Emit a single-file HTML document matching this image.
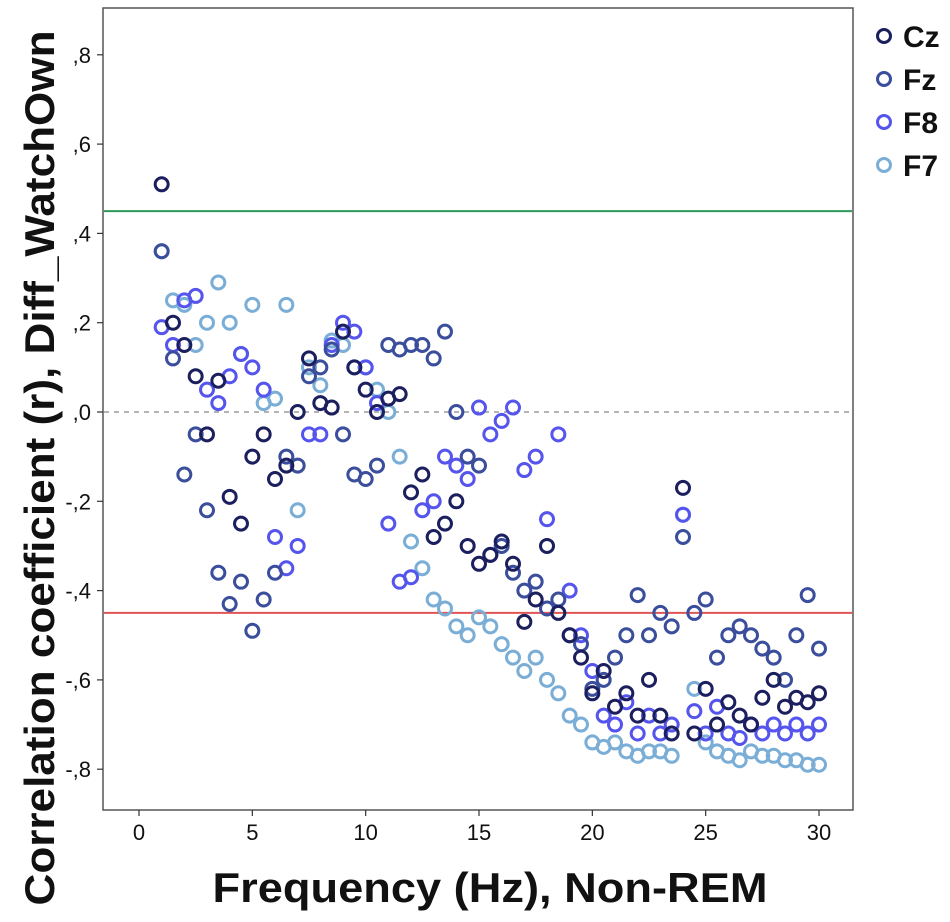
<!DOCTYPE html>
<html><head><meta charset="utf-8"><style>
html,body{margin:0;padding:0;background:#fff;}
svg{display:block;font-family:"Liberation Sans",Arial,sans-serif;}
</style></head><body>
<svg id="chart" width="950" height="922" viewBox="0 0 950 922">
<rect x="103" y="8" width="750" height="802" fill="#fff" stroke="#555" stroke-width="1.5"/>
<g id="axes"></g>
<g id="marks"></g>
<text x="490" y="902" text-anchor="middle" font-size="42" font-weight="bold" fill="#111" textLength="555" lengthAdjust="spacingAndGlyphs">Frequency (Hz), Non-REM</text>
<text transform="translate(54,468) rotate(-90)" text-anchor="middle" font-size="42" font-weight="bold" fill="#111" textLength="875" lengthAdjust="spacingAndGlyphs">Correlation coefficient (r), Diff_WatchOwn</text>
<g id="legend"></g>
</svg>
<script>
const freqs=[1,1.5,2,2.5,3,3.5,4,4.5,5,5.5,6,6.5,7,7.5,8,8.5,9,9.5,10,10.5,11,11.5,12,12.5,13,13.5,14,14.5,15,15.5,16,16.5,17,17.5,18,18.5,19,19.5,20,20.5,21,21.5,22,22.5,23,23.5,24,24.5,25,25.5,26,26.5,27,27.5,28,28.5,29,29.5,30];
const cz=[.51,.2,.15,.08,-.05,.07,-.19,-.25,-.1,-.05,-.15,-.12,0,.12,.02,.01,.18,.1,.05,0,.03,.04,-.18,-.14,-.28,-.25,-.2,-.3,-.34,-.32,-.29,-.34,-.47,-.42,-.3,-.45,-.5,-.55,-.63,-.58,-.66,-.63,-.68,-.6,-.68,-.72,-.17,-.72,-.62,-.7,-.65,-.68,-.7,-.64,-.6,-.66,-.64,-.65,-.63];
const fz=[.36,.12,-.14,-.05,-.22,-.36,-.43,-.38,-.49,-.42,-.36,-.1,-.12,.08,.1,.14,-.05,-.14,-.15,-.12,.15,.14,.15,.15,.12,.18,0,-.1,-.12,-.32,-.3,-.36,-.4,-.38,-.44,-.42,-.5,-.52,-.62,-.6,-.55,-.5,-.41,-.5,-.45,-.48,-.28,-.45,-.42,-.55,-.5,-.48,-.5,-.53,-.55,-.6,-.5,-.41,-.53];
const f8=[.19,.15,.25,.26,.05,.02,.08,.13,.1,.05,-.28,-.35,-.3,-.05,-.05,.15,.2,.18,.1,.02,-.25,-.38,-.37,-.22,-.2,-.1,-.12,-.15,.01,-.05,-.02,.01,-.13,-.1,-.24,-.05,-.4,-.5,-.58,-.68,-.7,-.65,-.72,-.68,-.72,-.7,-.23,-.67,-.72,-.66,-.72,-.73,-.7,-.72,-.7,-.72,-.7,-.72,-.7];
const f7=[.36,.25,.24,.15,.2,.29,.2,.13,.24,.02,.03,.24,-.22,.1,.06,.16,.15,.1,.1,.05,0,-.1,-.29,-.35,-.42,-.44,-.48,-.5,-.46,-.48,-.52,-.55,-.58,-.55,-.6,-.63,-.68,-.7,-.74,-.75,-.74,-.76,-.77,-.76,-.76,-.77,-.23,-.62,-.74,-.76,-.77,-.78,-.76,-.77,-.77,-.78,-.78,-.79,-.79];
const seriesNames=["Cz","Fz","F8","F7"];
const seriesColors=["#1c1f5e","#3a4e9c","#5555ee","#7aaed6"];
const xTicks=[0,5,10,15,20,25,30];
const yTicks=[0.8,0.6,0.4,0.2,0,-0.2,-0.4,-0.6,-0.8];
const yTickLabels=[",8",",6",",4",",2",",0","-,2","-,4","-,6","-,8"];
const refUpper=0.45, refLower=-0.45;

const NS="http://www.w3.org/2000/svg";
const X=f=>139+f*22.667;
const Y=r=>412-r*446.5;
function mk(tag,attrs,parent){const e=document.createElementNS(NS,tag);for(const k in attrs)e.setAttribute(k,attrs[k]);parent.appendChild(e);return e;}
const axes=document.getElementById('axes'),marks=document.getElementById('marks'),legend=document.getElementById('legend');

xTicks.forEach(t=>{
  const l=mk('line',{x1:X(t),x2:X(t),y1:810,y2:816,stroke:'#333','stroke-width':1.2},axes);
  
  
  const tx=mk('text',{x:X(t),y:840,'text-anchor':'middle','font-size':22,fill:'#111'},axes);
  tx.textContent=t;
  
  
});
yTicks.forEach((t,i)=>{
  const l=mk('line',{x1:97,x2:103,y1:Y(t),y2:Y(t),stroke:'#333','stroke-width':1.2},axes);
  
  
  const tx=mk('text',{x:91,y:Y(t)+8,'text-anchor':'end','font-size':22,fill:'#111'},axes);
  tx.textContent=yTickLabels[i];
  
  
});
const z=mk('line',{x1:104,x2:852,y1:Y(0),y2:Y(0),stroke:'#888','stroke-width':1.3,'stroke-dasharray':'5,5'},axes);


const gu=mk('line',{x1:104,x2:852,y1:Y(refUpper),y2:Y(refUpper),stroke:'#2e9a5a','stroke-width':2},axes);


const rl=mk('line',{x1:104,x2:852,y1:Y(refLower),y2:Y(refLower),stroke:'#e05555','stroke-width':2},axes);



const allSeries=[cz,fz,f8,f7];
[3,2,1,0].forEach(si=>{
  allSeries[si].forEach((v,i)=>{
    const c=mk('circle',{cx:X(freqs[i]),cy:Y(v),r:6.5,fill:'none',stroke:seriesColors[si],'stroke-width':3},marks);
    
    
  });
});

seriesNames.forEach((n,i)=>{
  const yy=36+i*43;
  const c=mk('circle',{cx:884,cy:yy,r:6.5,fill:'none',stroke:seriesColors[i],'stroke-width':3},legend);
  
  
  const t=mk('text',{x:903,y:yy+11,'font-size':30,'font-weight':'bold',fill:'#111'},legend);
  t.textContent=n;
  
  
});
</script>
</body></html>
